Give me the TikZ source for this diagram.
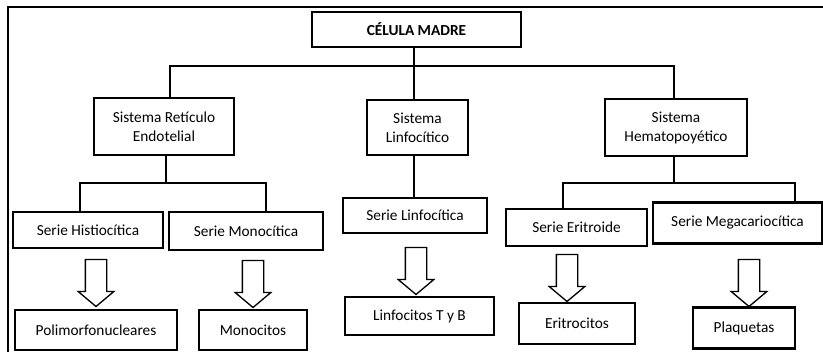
\documentclass[tikz,border=0pt]{standalone}
\usepackage{fontspec}
\setmainfont{Carlito}
\usetikzlibrary{shapes.arrows}

\tikzset{every picture/.style={line width=0.75pt}}
\tikzset{
  cellbox/.style={draw, line width=1.7pt, inner sep=0pt, align=center,
    font=\fontsize{11.5}{14.25}\selectfont},
  busline/.style={line width=1.6pt},
  thinline/.style={line width=0.8pt},
  openarrow/.style={single arrow, draw, line width=1pt, rotate=-90,
    inner xsep=0pt, inner ysep=7.5pt, minimum height=35.25pt,
    single arrow head extend=5.4pt, single arrow tip angle=100},
}

\begin{document}
\begin{tikzpicture}[x=0.75pt,y=0.75pt,yscale=-1,xscale=1]
\useasboundingbox (0,0) rectangle (823,351);

%Frame
\draw [line width=1.2pt] (8,352) -- (8,7) -- (824,7) ;

%Shape: Rectangle -- top
\node [cellbox, minimum width=156.75pt, minimum height=26.25pt, font=\fontsize{11.5}{14.25}\selectfont\bfseries] (madre) at (416.5,29.5) {CÉLULA MADRE};

%Shape: Rectangle -- sistemas
\node [cellbox, minimum width=105pt, minimum height=42.75pt] (ret) at (164,126.5) {Sistema Retículo\\Endotelial};
\node [cellbox, minimum width=75.75pt, minimum height=41.25pt] (linf) at (417.5,127.5) {Sistema\\Linfocítico};
\node [cellbox, minimum width=106.5pt, minimum height=42.75pt] (hema) at (676,127.5) {Sistema\\Hematopoyético};

%Shape: Rectangle -- series
\node [cellbox, minimum width=112.5pt, minimum height=27pt] (histio) at (88,230) {Serie Histiocítica};
\node [cellbox, minimum width=115.5pt, minimum height=28.5pt] (mono) at (246,231) {Serie Monocítica};
\node [cellbox, minimum width=108pt, minimum height=26.25pt] (slinf) at (415,215.5) {Serie Linfocítica};
\node [cellbox, minimum width=105.75pt, minimum height=27.75pt] (eritro) at (576.5,227.5) {Serie Eritroide};
\node [cellbox, minimum width=126.75pt, minimum height=30.75pt] (mega) at (737.5,223) {Serie Megacariocítica};

%Shape: Rectangle -- celulas
\node [cellbox, minimum width=121.5pt, minimum height=30pt] (polimorfo) at (96,330) {Polimorfonucleares};
\node [cellbox, minimum width=81pt, minimum height=30pt] (monocitos) at (253,330) {Monocitos};
\node [cellbox, minimum width=111.75pt, minimum height=28.5pt] (linftb) at (419.5,316) {Linfocitos T y B};
\node [cellbox, minimum width=87pt, minimum height=30.75pt] (eritrocitos) at (577,323.5) {Eritrocitos};
\node [cellbox, minimum width=76.5pt, minimum height=30.75pt] (plaquetas) at (744,328) {Plaquetas};

%Shape: Arrows
\node [openarrow] (arrhistio) at (96,278.5) {};
\node [openarrow] (arrmono) at (253,279.5) {};
\node [openarrow] (arrlinf) at (416,266.5) {};
\node [openarrow] (arreritro) at (567,273.5) {};
\node [openarrow] (arrmega) at (749,278.5) {};

%Straight Lines
\coordinate (topbus) at (414,66);
\coordinate (leftbus) at (166,183);
\coordinate (rightbus) at (674,183);

\draw [thinline] (madre.south -| topbus) -- (topbus |- linf.north) ;
\draw [busline] ([xshift=4.5pt]ret.north) |- (topbus) -| ([xshift=-1.5pt]hema.north) ;
\draw [busline] (linf.south -| topbus) -- (topbus |- slinf.north) ;

\draw [busline] (leftbus |- ret.south) -- (leftbus) ;
\draw [busline] ([xshift=-6pt]histio.north) |- (leftbus) -| ([xshift=15pt]mono.north) ;

\draw [busline] (rightbus |- hema.south) -- (rightbus) ;
\draw [busline] ([xshift=-10.1pt]eritro.north) |- (rightbus) -| ([xshift=43.1pt]mega.north) ;

\end{tikzpicture}
\end{document}
